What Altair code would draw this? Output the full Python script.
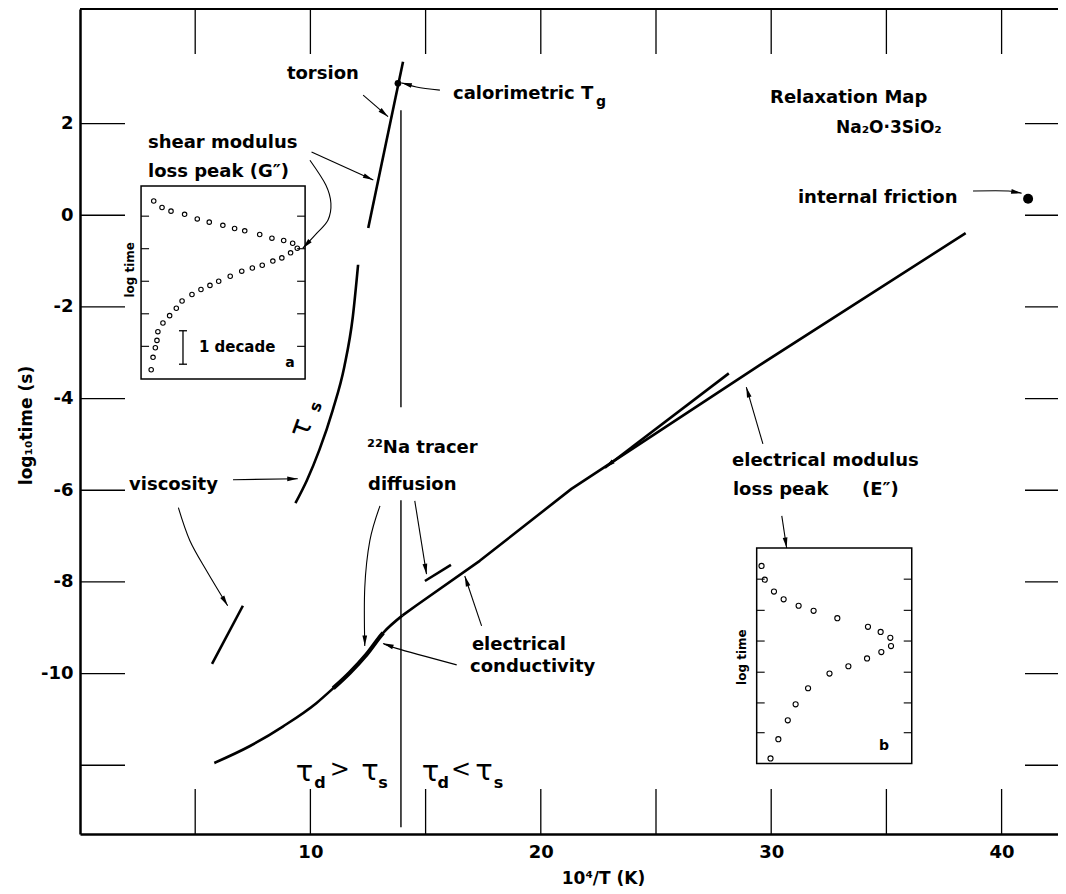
import math
import altair as alt
import pandas as pd

FONT = "DejaVu Sans"

# ---------------- axes ----------------
W, H = 978, 825
X_MIN, X_MAX = 0.0, W / 23.04
Y_MIN, Y_MAX = -13.5, 4.5
SX = W / (X_MAX - X_MIN)
SY = H / (Y_MAX - Y_MIN)

x_tick_values = [5, 10, 15, 20, 25, 30, 35, 40]
x_label_values = [10, 20, 30, 40]
y_tick_values = [2, 0, -2, -4, -6, -8, -10, -12]
y_label_values = [2, 0, -2, -4, -6, -8, -10]

# ---------------- main curves (x = 10^4/T, y = log10 time) ----------------
cond_low_x = [5.83, 7.38, 8.82, 10.27, 10.99, 11.71, 12.44, 13.16, 14.00]
cond_low_y = [-11.95, -11.58, -11.15, -10.64, -10.32, -9.98, -9.58, -9.11, -8.73]
overlap_from, overlap_to = 10.99, 13.16     # tracer-diffusion data lying on the conductivity curve
cond_high_x = [14.00, 14.61, 17.35, 21.33, 29.50, 38.44]
cond_high_y = [-8.73, -8.51, -7.54, -5.97, -3.27, -0.39]
tau_s_x = [9.35, 9.85, 10.39, 10.97, 11.47, 11.84, 12.07]
tau_s_y = [-6.28, -5.78, -5.12, -4.25, -3.31, -2.22, -1.08]
torsion_x = [12.51, 14.02]
torsion_y = [-0.28, 3.35]
visc_x = [5.73, 7.07]
visc_y = [-9.79, -8.52]
tracer_x = [14.97, 16.10]
tracer_y = [-7.98, -7.63]
emod_x = [22.78, 28.16]
emod_y = [-5.51, -3.45]
tg_line_x = 13.93
tg_upper_y = [2.29, -4.19]
tg_lower_y = [-6.22, -13.35]

# single points
tg_point = (13.80, 2.88)
friction_point = (41.15, 0.36)

# ---------------- inset a (shear modulus loss peak) ----------------
inset_a_box = (2.65, 9.77, 0.64, -3.57)
inset_a_ticks = [-0.02, -0.73, -1.44, -2.15, -2.86]
inset_a_x = [3.20, 3.56, 3.95, 4.54, 5.09, 5.61, 6.20, 6.71, 7.15, 7.80, 8.33, 8.84, 9.23, 9.43,
             9.14, 8.76, 8.37, 7.91, 7.48, 7.02, 6.52, 6.02, 5.64, 5.25, 4.86, 4.43, 4.18, 3.89,
             3.60, 3.38, 3.34, 3.27, 3.17, 3.09]
inset_a_y = [0.31, 0.17, 0.09, 0.02, -0.08, -0.15, -0.22, -0.29, -0.34, -0.42, -0.50, -0.55, -0.61, -0.72,
             -0.82, -0.93, -1.00, -1.09, -1.15, -1.22, -1.33, -1.44, -1.53, -1.62, -1.73, -1.87, -2.03, -2.19,
             -2.35, -2.54, -2.73, -2.89, -3.10, -3.37]
decade_bar = (4.47, -2.52, -3.25)

# ---------------- inset b (electrical modulus loss peak) ----------------
inset_b_box = (29.37, 36.10, -7.26, -11.96)
inset_b_ticks = [-7.94, -8.62, -9.29, -9.97, -10.64, -11.29]
inset_b_x = [29.58, 29.72, 30.12, 30.54, 31.19, 31.84, 32.87, 34.20, 34.75, 35.17,
             35.20, 34.78, 34.16, 33.35, 32.53, 31.60, 31.06, 30.72, 30.31, 29.97]
inset_b_y = [-7.65, -7.95, -8.21, -8.38, -8.52, -8.63, -8.79, -8.98, -9.09, -9.22,
             -9.40, -9.53, -9.67, -9.84, -10.00, -10.32, -10.67, -11.02, -11.43, -11.85]

# ---------------- annotation arrows ----------------
arrows = {
    "torsion": ([12.29, 13.37], [2.62, 2.15]),
    "tg": ([15.62, 14.60, 13.95], [2.73, 2.80, 2.89]),
    "shear1": ([10.05, 12.73], [1.38, 0.77]),
    "shear2": ([9.98, 10.67, 10.89, 10.76, 10.28, 9.67], [1.20, 0.66, 0.26, -0.11, -0.39, -0.72]),
    "visc1": ([6.64, 9.45], [-5.77, -5.75]),
    "visc2": ([4.27, 4.77, 5.50, 6.41], [-6.38, -7.10, -7.76, -8.52]),
    "diff1": ([13.02, 12.58, 12.36, 12.36], [-6.34, -7.10, -8.12, -9.40]),
    "diff2": ([14.53, 15.04], [-6.23, -7.83]),
    "cond1": ([16.35, 13.74, 13.16], [-9.81, -9.45, -9.34]),
    "cond2": ([17.43, 16.70], [-8.96, -7.87]),
    "emod1": ([29.64, 28.92], [-4.99, -3.75]),
    "emod2": ([30.46, 30.67], [-6.56, -7.26]),
    "friction": ([38.76, 40.30, 40.87], [0.53, 0.53, 0.48]),
}

# ---------------- text labels ----------------
left_labels = [
    ("torsion", 8.98, 3.08, 18),
    ("calorimetric T", 16.19, 2.65, 18),
    ("g", 22.40, 2.47, 14),
    ("Relaxation Map", 29.95, 2.56, 18),
    ("Na₂O·3SiO₂", 32.81, 1.90, 17),
    ("internal friction", 31.16, 0.38, 18),
    ("shear modulus", 2.95, 1.58, 18),
    ("loss peak (G″)", 2.95, 0.945, 18),
    ("viscosity", 2.13, -5.88, 18),
    ("²²Na tracer", 12.46, -5.08, 18),
    ("diffusion", 12.50, -5.88, 18),
    ("electrical", 17.01, -9.38, 18),
    ("conductivity", 16.93, -9.86, 18),
    ("electrical modulus", 28.30, -5.36, 18),
    ("loss peak", 28.34, -5.99, 18),
    ("(E″)", 33.94, -5.99, 18),
    ("1 decade", 5.16, -2.87, 15),
]
center_labels = [
    ("log time", 2.17, -1.19, 12, 270),
    ("log time", 28.73, -9.64, 12, 270),
    ("a", 9.11, -3.22, 14, 0),
    ("b", 34.90, -11.58, 14, 0),
    ("d", 10.42, -12.39, 16, 0),
    ("s", 13.15, -12.39, 16, 0),
    ("d", 15.76, -12.39, 16, 0),
    ("s", 18.16, -12.39, 16, 0),
    ("s", 10.24, -4.18, 16, 290),
]
greek_labels = [
    ("τ", 9.74, -12.15, 29, 0),
    (">", 11.28, -12.10, 24, 0),
    ("τ", 12.59, -12.12, 29, 0),
    ("τ", 15.21, -12.15, 29, 0),
    ("<", 16.54, -12.10, 24, 0),
    ("τ", 17.53, -12.12, 29, 0),
    ("τ", 9.59, -4.64, 29, 290),
]

# ---------------- helpers ----------------
XSCALE = alt.Scale(domain=[X_MIN, X_MAX], nice=False, zero=False)
YSCALE = alt.Scale(domain=[Y_MIN, Y_MAX], nice=False, zero=False)
XAXIS = alt.Axis(values=x_label_values, ticks=False, tickSize=0, grid=False,
                 domainColor="black", domainWidth=2.5, labelOverlap=False,
                 labelFont=FONT, labelFontSize=18, labelFontWeight="bold", labelColor="black",
                 labelPadding=9, title="10⁴/T (K)", titleFont=FONT, titleFontSize=17,
                 titleFontWeight="bold", titleColor="black", titleX=523, titleY=44,
                 titleAlign="center", titleBaseline="middle")
YAXIS = alt.Axis(values=y_label_values, ticks=False, tickSize=0, grid=False,
                 domainColor="black", domainWidth=2.5, labelOverlap=False,
                 labelExpr="datum.value < 0 ? '-' + abs(datum.value) : '' + datum.value",
                 labelFont=FONT, labelFontSize=18, labelFontWeight="bold", labelColor="black",
                 labelPadding=7, title="log₁₀time (s)", titleFont=FONT, titleFontSize=17,
                 titleFontWeight="bold", titleColor="black", titleX=-54, titleY=416,
                 titleAngle=270, titleAlign="center", titleBaseline="middle")


def xe():
    return alt.X("x:Q", scale=XSCALE, axis=XAXIS)


def ye():
    return alt.Y("y:Q", scale=YSCALE, axis=YAXIS)


def series_df(named):
    rows = []
    for name, (xs, ys) in named.items():
        for i, (a, b) in enumerate(zip(xs, ys)):
            rows.append({"id": name, "i": i, "x": a, "y": b})
    return pd.DataFrame(rows)


def head(xs, ys):
    x0, y0, x1, y1 = xs[-2], ys[-2], xs[-1], ys[-1]
    dxs = (x1 - x0) * SX
    dys = -(y1 - y0) * SY
    ang = math.degrees(math.atan2(dxs, -dys)) % 360
    return {"x": x1, "y": y1, "angle": ang}


def line_layer(named, width, interp="linear", **kw):
    return alt.Chart(series_df(named)).mark_line(
        color="black", strokeWidth=width, interpolate=interp, strokeCap="butt",
        strokeJoin="round", **kw
    ).encode(x=xe(), y=ye(), detail="id:N", order="i:Q")


def path_len_to(xs, ys, xstop):
    # pixel length along the polyline up to x = xstop
    total = 0.0
    for k in range(1, len(xs)):
        if xs[k] > xstop + 1e-9:
            break
        total += math.hypot((xs[k] - xs[k - 1]) * SX, (ys[k] - ys[k - 1]) * SY)
    return total


layers = []

# frame top + inward ticks
one = pd.DataFrame({"v": [0]})
layers.append(alt.Chart(one).mark_rule(color="black", strokeWidth=2).encode(
    x=alt.value(0), x2=alt.value(W), y=alt.value(0)))
xt = pd.DataFrame({"x": x_tick_values})
yt = pd.DataFrame({"y": y_tick_values})
layers.append(alt.Chart(xt).mark_rule(color="black", strokeWidth=1.3).encode(
    x=xe(), y=alt.value(H), y2=alt.value(H - 45)))
layers.append(alt.Chart(xt).mark_rule(color="black", strokeWidth=1.3).encode(
    x=xe(), y=alt.value(0), y2=alt.value(45)))
layers.append(alt.Chart(yt).mark_rule(color="black", strokeWidth=1.3).encode(
    y=ye(), x=alt.value(0), x2=alt.value(45)))
layers.append(alt.Chart(yt).mark_rule(color="black", strokeWidth=1.3).encode(
    y=ye(), x=alt.value(W - 33), x2=alt.value(W)))

# main curves
layers.append(line_layer({"tau_s": (tau_s_x, tau_s_y),
                          "cond_low": (cond_low_x, cond_low_y)}, 2.6, "monotone"))
l0 = path_len_to(cond_low_x, cond_low_y, overlap_from)
l1 = path_len_to(cond_low_x, cond_low_y, overlap_to)
layers.append(line_layer({"overlap": (cond_low_x, cond_low_y)}, 4.2, "monotone",
                         strokeDash=[0.01, l0, l1 - l0, 5000]))
layers.append(line_layer({"cond_high": (cond_high_x, cond_high_y),
                          "torsion": (torsion_x, torsion_y),
                          "visc": (visc_x, visc_y),
                          "tracer": (tracer_x, tracer_y),
                          "emod": (emod_x, emod_y)}, 2.6))
layers.append(line_layer({"tg_up": ([tg_line_x, tg_line_x], tg_upper_y),
                          "tg_lo": ([tg_line_x, tg_line_x], tg_lower_y)}, 1.4))

# arrows
layers.append(line_layer(arrows, 1.1, "cardinal"))
heads = [head(xs, ys) for xs, ys in arrows.values()]
heads.append(head(list(reversed(emod_x)), list(reversed(emod_y))))
ARROW = "M0,0L0.45,2L-0.45,2Z"
layers.append(alt.Chart(pd.DataFrame(heads)).mark_point(
    shape=ARROW, filled=True, color="black", opacity=1, size=110, strokeWidth=0
).encode(x=xe(), y=ye(), angle=alt.Angle("angle:Q", scale=None)))

# single filled points
layers.append(alt.Chart(pd.DataFrame({"x": [tg_point[0]], "y": [tg_point[1]]})).mark_point(
    shape="circle", filled=True, color="black", opacity=1, size=45).encode(x=xe(), y=ye()))
layers.append(alt.Chart(pd.DataFrame({"x": [friction_point[0]], "y": [friction_point[1]]})).mark_point(
    shape="circle", filled=True, color="black", opacity=1, size=100).encode(x=xe(), y=ye()))

# insets: boxes
boxes = pd.DataFrame([
    {"x": inset_a_box[0], "x2": inset_a_box[1], "y": inset_a_box[2], "y2": inset_a_box[3]},
    {"x": inset_b_box[0], "x2": inset_b_box[1], "y": inset_b_box[2], "y2": inset_b_box[3]},
])
layers.append(alt.Chart(boxes).mark_rect(fillOpacity=0, stroke="black", strokeWidth=1.5).encode(
    x=xe(), x2="x2:Q", y=ye(), y2="y2:Q"))

# inset ticks (8 px long, inward on both sides)
TL = 8 / SX
itk = []
for yv in inset_a_ticks:
    itk.append({"x": inset_a_box[0], "x2": inset_a_box[0] + TL, "y": yv})
    itk.append({"x": inset_a_box[1] - TL, "x2": inset_a_box[1], "y": yv})
for yv in inset_b_ticks:
    itk.append({"x": inset_b_box[0], "x2": inset_b_box[0] + TL, "y": yv})
    itk.append({"x": inset_b_box[1] - TL, "x2": inset_b_box[1], "y": yv})
layers.append(alt.Chart(pd.DataFrame(itk)).mark_rule(color="black", strokeWidth=1.1).encode(
    x=xe(), x2="x2:Q", y=ye()))

# 1 decade bar
CAP = 4 / SX
bar = pd.DataFrame([
    {"x": decade_bar[0], "x2": decade_bar[0], "y": decade_bar[1], "y2": decade_bar[2]},
    {"x": decade_bar[0] - CAP, "x2": decade_bar[0] + CAP, "y": decade_bar[1], "y2": decade_bar[1]},
    {"x": decade_bar[0] - CAP, "x2": decade_bar[0] + CAP, "y": decade_bar[2], "y2": decade_bar[2]},
])
layers.append(alt.Chart(bar).mark_rule(color="black", strokeWidth=1.3).encode(
    x=xe(), x2="x2:Q", y=ye(), y2="y2:Q"))

# inset points
layers.append(alt.Chart(pd.DataFrame({"x": inset_a_x, "y": inset_a_y})).mark_point(
    shape="circle", filled=False, color="black", strokeWidth=1.1, size=20, opacity=1
).encode(x=xe(), y=ye()))
layers.append(alt.Chart(pd.DataFrame({"x": inset_b_x, "y": inset_b_y})).mark_point(
    shape="circle", filled=False, color="black", strokeWidth=1.1, size=26, opacity=1
).encode(x=xe(), y=ye()))

# text
ldf = pd.DataFrame(left_labels, columns=["t", "x", "y", "fs"])
layers.append(alt.Chart(ldf).mark_text(
    align="left", baseline="middle", font=FONT, fontWeight="bold", color="black"
).encode(x=xe(), y=ye(), text="t:N", size=alt.Size("fs:Q", scale=None)))
cdf = pd.DataFrame(center_labels, columns=["t", "x", "y", "fs", "ang"])
layers.append(alt.Chart(cdf).mark_text(
    align="center", baseline="middle", font=FONT, fontWeight="bold", color="black"
).encode(x=xe(), y=ye(), text="t:N", size=alt.Size("fs:Q", scale=None),
         angle=alt.Angle("ang:Q", scale=None)))
gdf = pd.DataFrame(greek_labels, columns=["t", "x", "y", "fs", "ang"])
layers.append(alt.Chart(gdf).mark_text(
    align="center", baseline="middle", font=FONT, fontWeight="normal", color="black"
).encode(x=xe(), y=ye(), text="t:N", size=alt.Size("fs:Q", scale=None),
         angle=alt.Angle("ang:Q", scale=None)))

chart = alt.layer(*layers).properties(
    width=W, height=H,
    padding={"left": 72, "top": 1, "right": 0, "bottom": 52},
    autosize=alt.AutoSizeParams(type="none"),
    background="white",
).configure_view(stroke="transparent")

chart.save("out.html", embed_options={"renderer": "svg", "actions": False})
